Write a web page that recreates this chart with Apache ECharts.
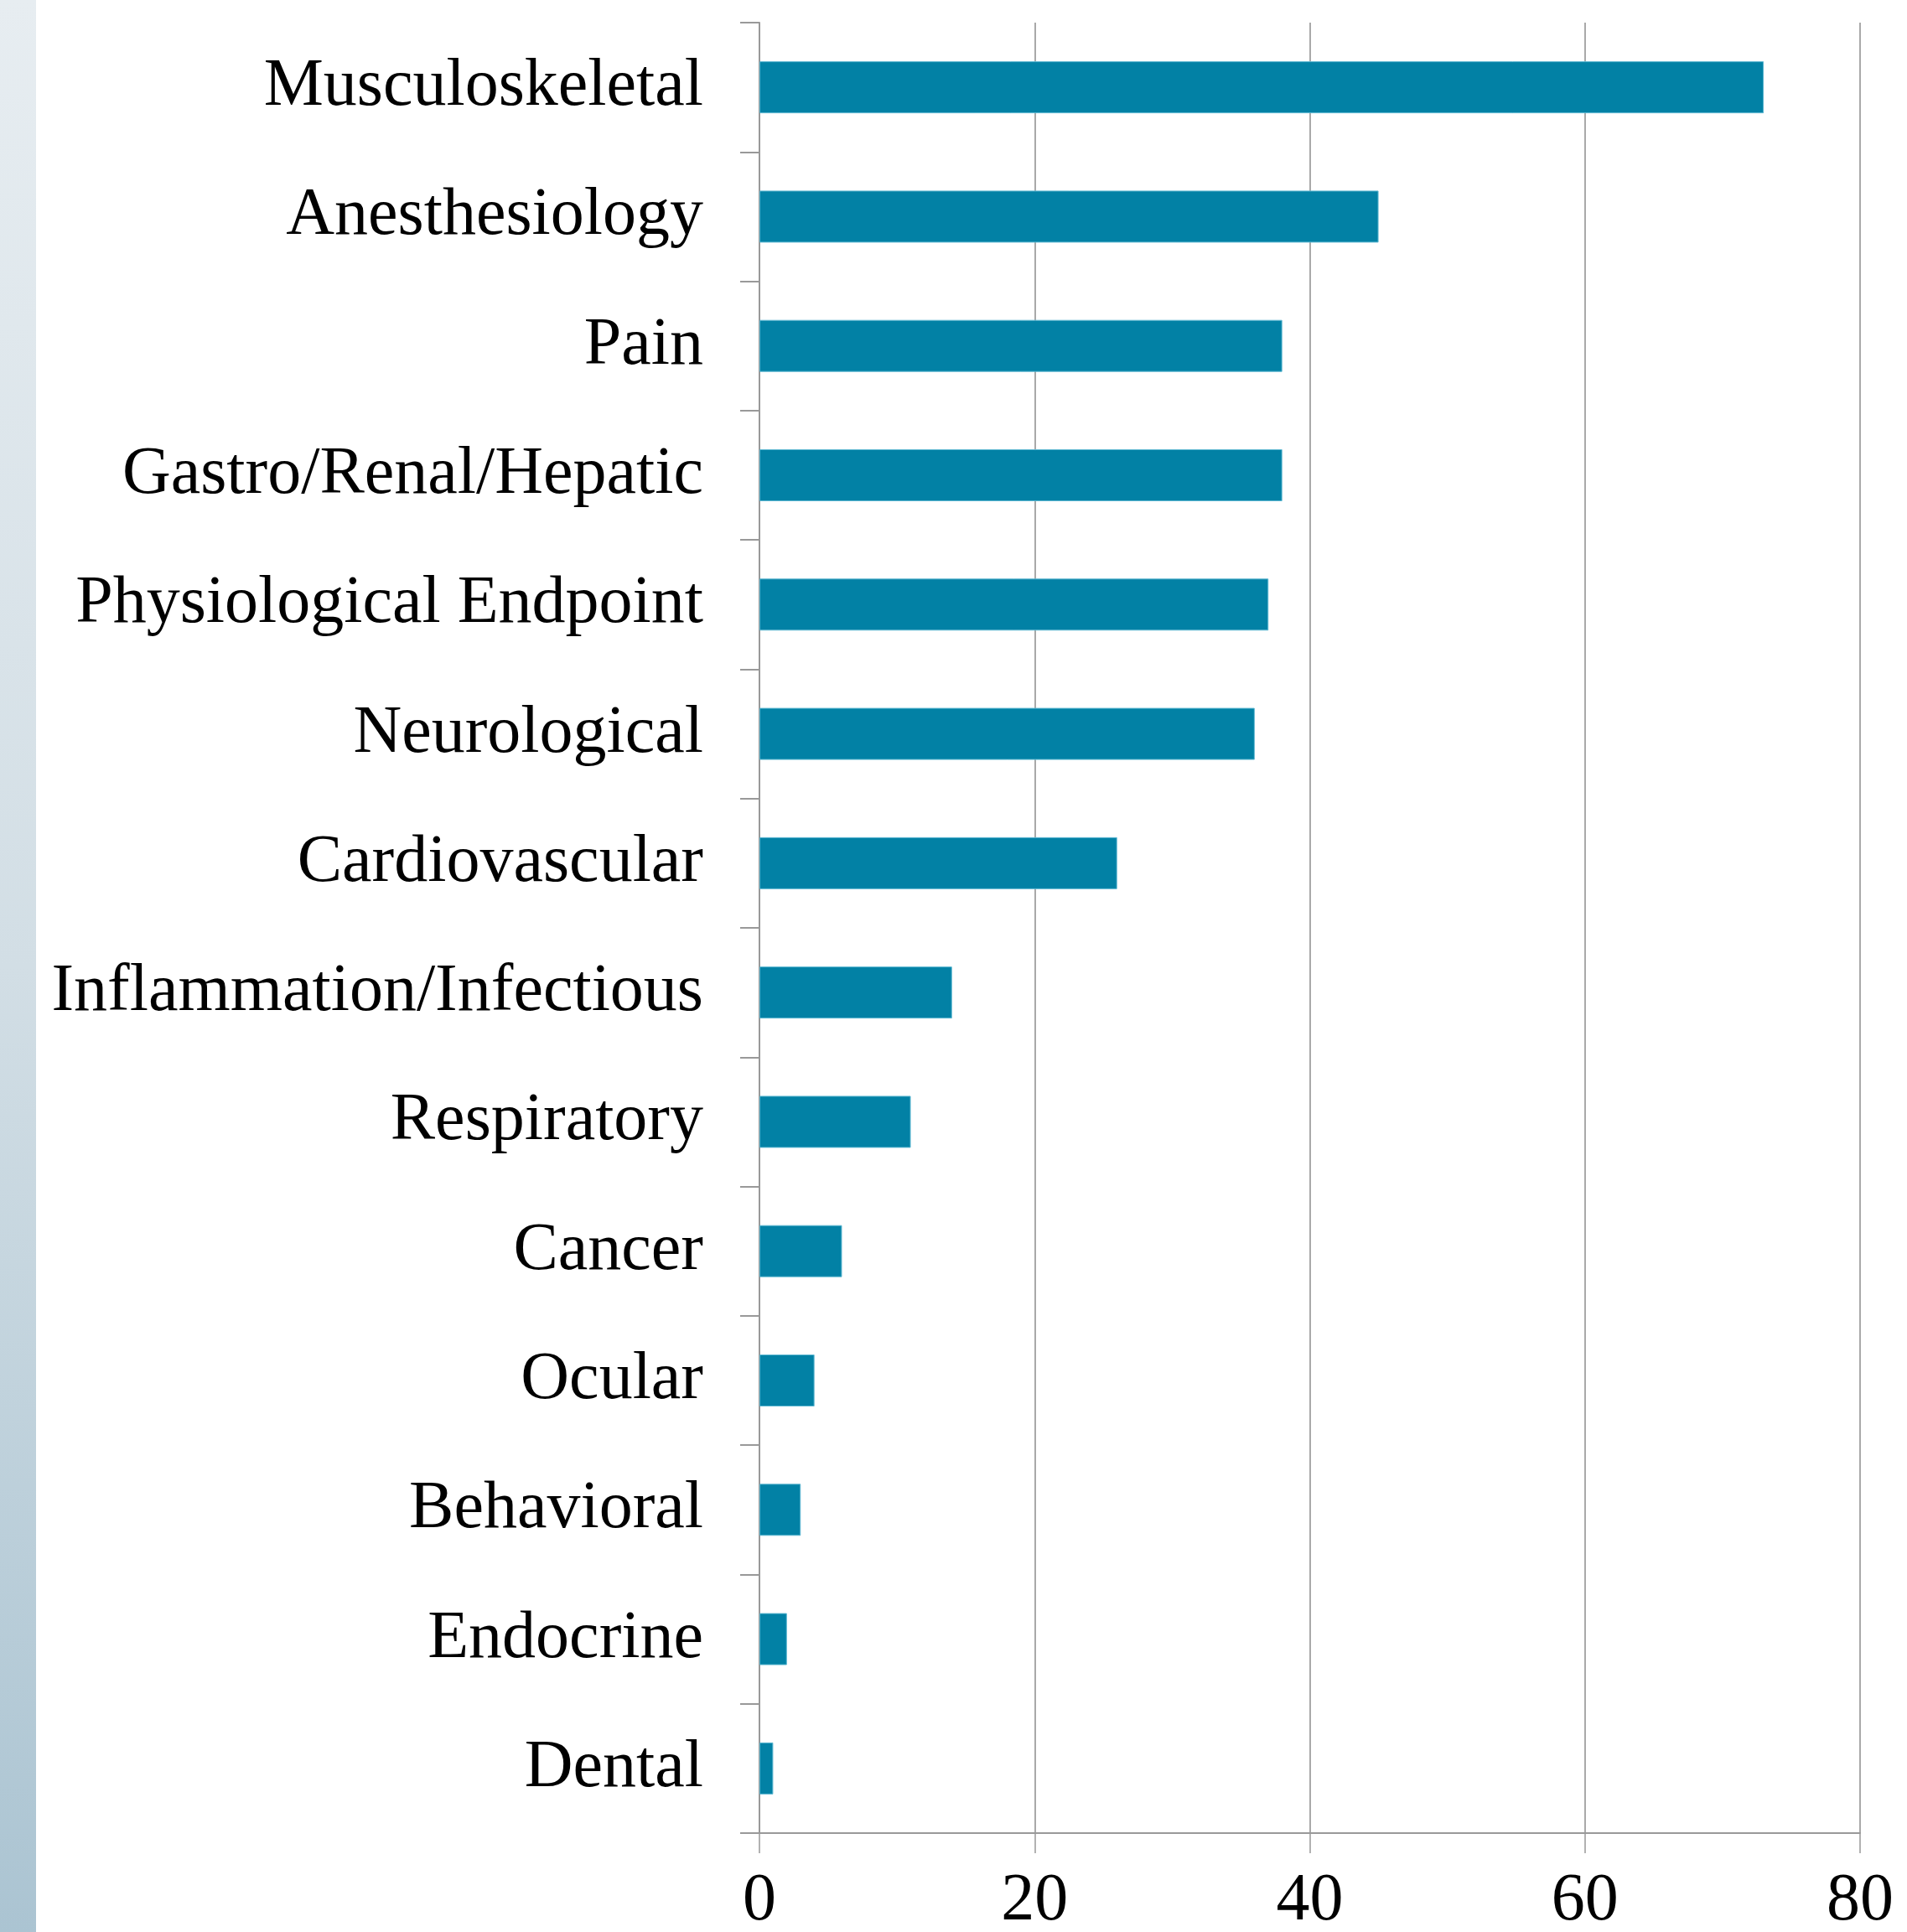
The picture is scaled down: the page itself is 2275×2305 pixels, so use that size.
<!DOCTYPE html>
<html>
<head>
<meta charset="utf-8">
<script src="https://cdn.jsdelivr.net/npm/echarts@6/dist/echarts.min.js"></script>
<style>
html, body { margin: 0; padding: 0; background: #fff; }
#chart { width: 2275px; height: 2305px; }
</style>
</head>
<body>
<div id="chart"></div>
<script>
// categories, top to bottom
var categories = [
	'Musculoskeletal', 'Anesthesiology', 'Pain', 'Gastro/Renal/Hepatic',
	'Physiological Endpoint', 'Neurological', 'Cardiovascular',
	'Inflammation/Infectious', 'Respiratory', 'Cancer', 'Ocular',
	'Behavioral', 'Endocrine', 'Dental'
];
var counts = [73, 45, 38, 38, 37, 36, 26, 14, 11, 6, 4, 3, 2, 1];
var xTicks = [0, 20, 40, 60, 80];

var font = '"Liberation Serif", "Times New Roman", serif';
var gray = '#999999';

var myChart = echarts.init(document.getElementById('chart'));
myChart.setOption({
	animation: false,
	backgroundColor: '#ffffff',
	// light blue strip on the left edge
	graphic: [{
		type: 'rect',
		left: 0,
		top: 0,
		shape: { width: 43, height: 2305 },
		style: {
			fill: new echarts.graphic.LinearGradient(0, 0, 0, 1, [
				{ offset: 0, color: '#e7edf1' },
				{ offset: 0.5, color: '#d2dee5' },
				{ offset: 1, color: '#abc4d2' }
			])
		},
		silent: true
	}],
	grid: {
		left: 906,
		right: 56,
		top: 27,
		bottom: 118,
		containLabel: false,
		outerBoundsMode: 'none'
	},
	xAxis: {
		type: 'value',
		min: xTicks[0],
		max: xTicks[xTicks.length - 1],
		interval: 20,
		axisLine: { show: true, lineStyle: { color: gray, width: 2 } },
		axisTick: { show: true, length: 24, lineStyle: { color: gray, width: 1.5 } },
		splitLine: { show: true, lineStyle: { color: '#8c8c8c', width: 1.5 } },
		axisLabel: {
			margin: 42,
			fontFamily: font,
			fontSize: 80,
			color: '#000'
		}
	},
	yAxis: {
		type: 'category',
		inverse: true,
		data: categories,
		axisLine: { show: true, lineStyle: { color: gray, width: 2 } },
		axisTick: { show: true, length: 23, lineStyle: { color: gray, width: 2 } },
		splitLine: { show: false },
		axisLabel: {
			margin: 67,
			padding: [8, 0, 0, 0],
			fontFamily: font,
			fontSize: 80,
			color: '#000'
		}
	},
	series: [{
		type: 'bar',
		data: counts,
		barWidth: 62,
		itemStyle: {
			color: '#0281a5',
			borderColor: '#5fb8d2',
			borderWidth: 1
		}
	}]
});
</script>
</body>
</html>
